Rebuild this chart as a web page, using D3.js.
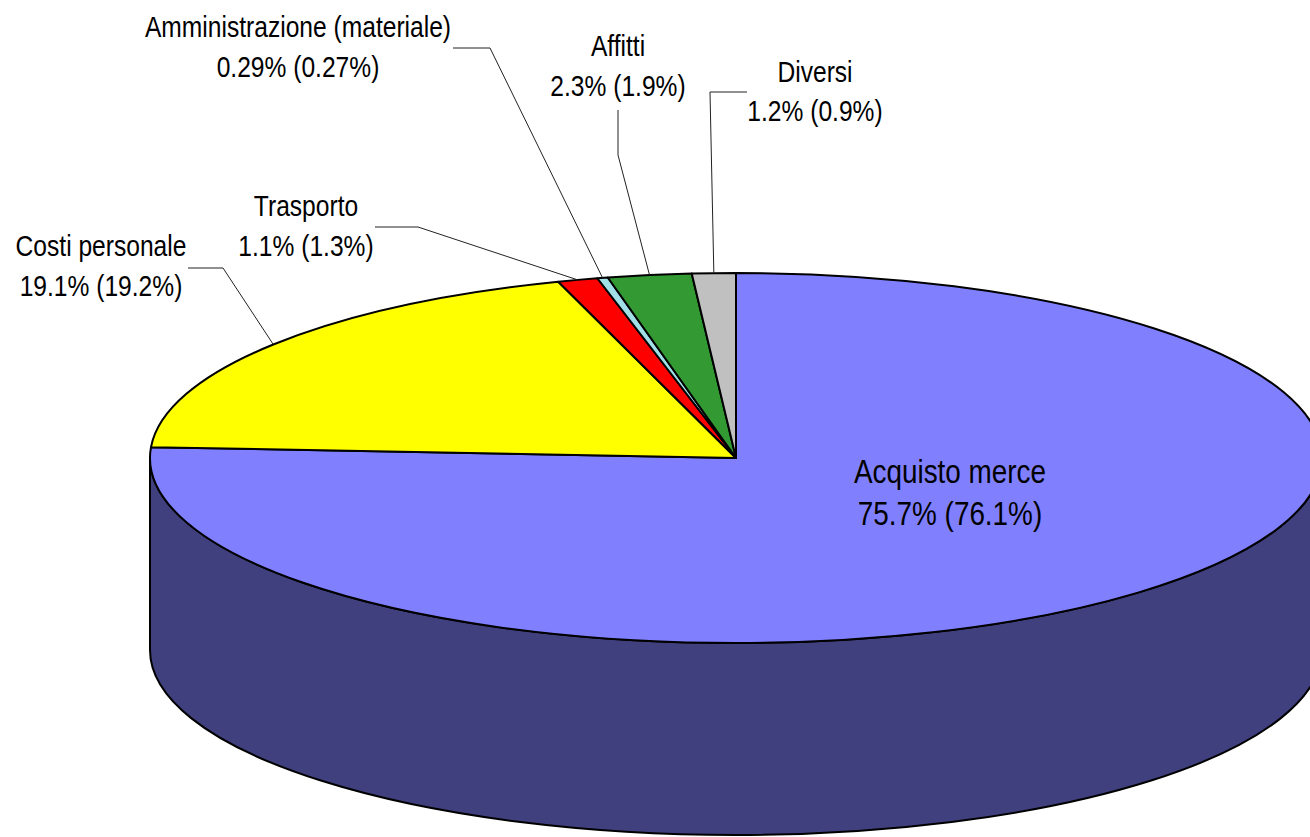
<!DOCTYPE html>
<html>
<head>
<meta charset="utf-8">
<script src="https://cdn.jsdelivr.net/npm/d3@7"></script>
<style>
  body { margin: 0; background: #fff; }
  svg text { font-family: "Liberation Sans", Arial, sans-serif; fill: #000; }
</style>
</head>
<body>
<svg id="chart" width="1310" height="837"></svg>
<script>
// cost categories, share this year and (last year)
var categories = ["Acquisto merce", "Costi personale", "Trasporto", "Amministrazione (materiale)", "Affitti", "Diversi"];
var values = [75.7, 19.1, 1.1, 0.29, 2.3, 1.2];
var prevValues = [76.1, 19.2, 1.3, 0.27, 1.9, 0.9];
var topColors = ["#8080ff", "#ffff00", "#ff0000", "#a0e0e6", "#339933", "#c0c0c0"];
var sideColors = ["#40407f", "#80800b", "#800000", "#507070", "#1a4d1a", "#606060"];

// where each label goes: text centre, first baseline, font size, leader start + elbow (null = inside)
var labelLayout = [
    {x: 950, y: 483, size: 34, gap: 42, leader: null},
    {x: 101, y: 256, size: 30, gap: 40, leader: [[188, 268], [223, 268]]},
    {x: 306, y: 216, size: 30, gap: 40, leader: [[375, 227], [418, 227]]},
    {x: 298, y: 37,  size: 30, gap: 40, leader: [[453, 48], [490, 48]]},
    {x: 618, y: 56,  size: 30, gap: 40, leader: [[618, 110], [618, 155]]},
    {x: 815, y: 82,  size: 30, gap: 39, leader: [[747, 92], [710, 92]]}
];

var svg = d3.select("#chart");
var cx = 736, cy = 458, rx = 586, ry = 185, depth = 192;
var narrow = 0.82;   // no Arial Narrow here, squeeze the regular face instead

// point on the (flattened) rim, angle clockwise from 12 o'clock
function rim(a, dy) {
    return [cx + rx * Math.sin(a), cy + (dy || 0) - ry * Math.cos(a)];
}

var pie = d3.pie().sort(null).value(function(d) { return d; });
var arcs = pie(values);

function topPath(d) {
    var p0 = rim(d.startAngle), p1 = rim(d.endAngle);
    var large = (d.endAngle - d.startAngle) > Math.PI ? 1 : 0;
    return "M" + cx + "," + cy + "L" + p0 + "A" + rx + "," + ry + " 0 " + large + " 1 " + p1 + "Z";
}

function sidePath(d) {
    // only the front half of the drum is visible
    var s = Math.max(d.startAngle, Math.PI / 2);
    var e = Math.min(d.endAngle, Math.PI * 1.5);
    if (s >= e) return null;
    var large = (e - s) > Math.PI ? 1 : 0;
    return "M" + rim(s) + "A" + rx + "," + ry + " 0 " + large + " 1 " + rim(e) +
        "L" + rim(e, depth) + "A" + rx + "," + ry + " 0 " + large + " 0 " + rim(s, depth) + "Z";
}

svg.append("g").selectAll("path")
    .data(arcs.filter(function(d) { return sidePath(d) !== null; }))
    .enter().append("path")
    .attr("d", sidePath)
    .attr("fill", function(d) { return sideColors[d.index]; })
    .attr("stroke", "#000")
    .attr("stroke-width", 2)
    .attr("stroke-linejoin", "round");

svg.append("g").selectAll("path")
    .data(arcs)
    .enter().append("path")
    .attr("d", topPath)
    .attr("fill", function(d) { return topColors[d.index]; })
    .attr("stroke", "#000")
    .attr("stroke-width", 2)
    .attr("stroke-linejoin", "round");

// leader lines to the middle of each small slice
var line = d3.line();
svg.append("g").selectAll("path")
    .data(arcs.filter(function(d) { return labelLayout[d.index].leader; }))
    .enter().append("path")
    .attr("d", function(d) {
        var mid = (d.startAngle + d.endAngle) / 2;
        var pts = labelLayout[d.index].leader.concat([rim(mid)]);
        return line(pts);
    })
    .attr("fill", "none")
    .attr("stroke", "#222")
    .attr("stroke-width", 1);

var labels = svg.append("g").selectAll("text")
    .data(arcs)
    .enter().append("text")
    .attr("text-anchor", "middle")
    .attr("font-size", function(d) { return labelLayout[d.index].size + "px"; })
    .attr("transform", function(d) {
        return "translate(" + labelLayout[d.index].x + ",0) scale(" + narrow + ",1)";
    });

labels.append("tspan")
    .attr("x", 0)
    .attr("y", function(d) { return labelLayout[d.index].y; })
    .text(function(d) { return categories[d.index]; });

labels.append("tspan")
    .attr("x", 0)
    .attr("y", function(d) { return labelLayout[d.index].y + labelLayout[d.index].gap; })
    .text(function(d) { return values[d.index] + "% (" + prevValues[d.index] + "%)"; });
</script>
</body>
</html>
